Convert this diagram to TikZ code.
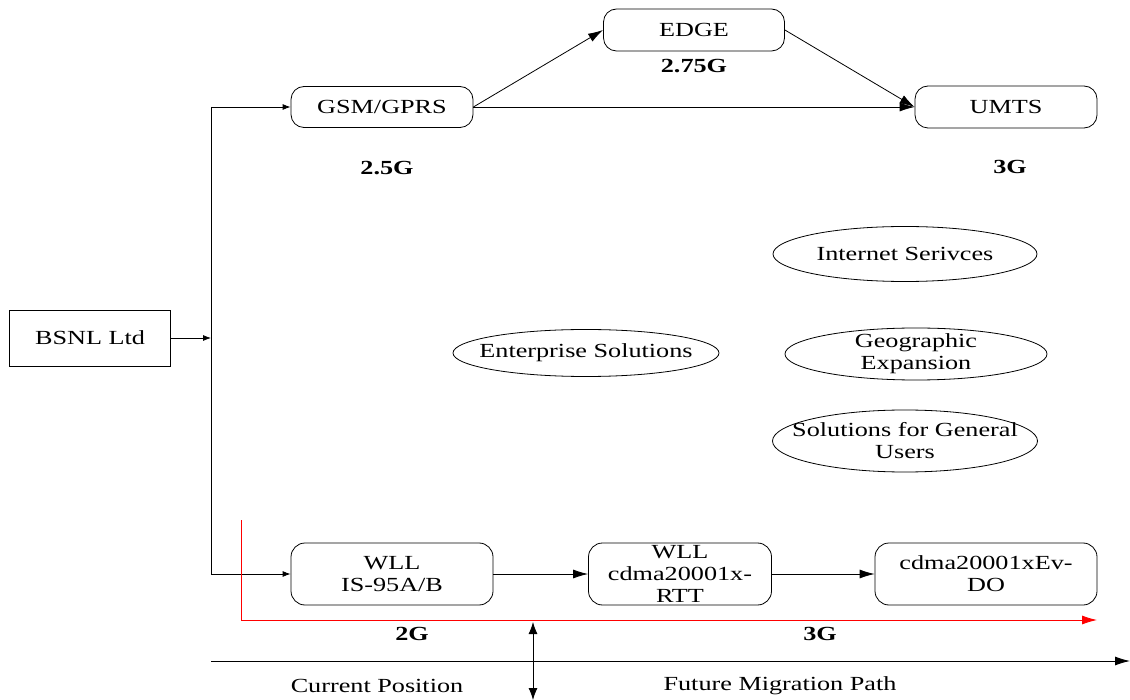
\documentclass[tikz,border=0pt]{standalone}
\usepackage{fontspec}
\setmainfont{Liberation Serif}[FakeStretch=1.31]
\usetikzlibrary{arrows.meta,shapes.geometric}
\begin{document}
\begin{tikzpicture}[x=1pt,y=-1pt,
  txt/.style={font=\fontsize{20}{22}\selectfont, align=center, inner sep=0pt},
  lbl/.style={font=\fontsize{20}{22}\selectfont\bfseries, inner sep=0pt},
  rbox/.style={draw, rounded corners=14pt, minimum height=62pt, inner sep=0pt, line width=0.8pt},
  sbox/.style={draw, inner sep=0pt, line width=0.8pt},
  ell/.style={draw, ellipse, inner sep=0pt, line width=0.8pt},
  conn/.style={line width=0.9pt},
  smallarr/.style={line width=0.8pt, -{Latex[length=8pt,width=6pt]}},
  bigarr/.style={line width=0.8pt, -{Latex[length=15pt,width=9pt]}}
]
\useasboundingbox (0,0) rectangle (1130,700);

% boxes
\node[sbox, minimum width=161pt, minimum height=56pt] (bsnl) at (90,338) {};
\node[txt] (bsnlt) at (bsnl) {BSNL Ltd};
\node[rbox, minimum width=182pt, minimum height=41pt, rounded corners=13pt] (gsm) at (382,107) {};
\node[txt] (gsmt) at (gsm) {GSM/GPRS};
\node[rbox, minimum width=181pt, minimum height=42pt, rounded corners=13pt] (edge) at (694,30) {};
\node[txt] (edget) at (edge) {EDGE};
\node[rbox, minimum width=182pt, minimum height=42pt, rounded corners=13pt] (umts) at (1006,107) {};
\node[txt] (umtst) at (umts) {UMTS};

\node[lbl] (l275) at (694,66) {2.75G};
\node[lbl] (l25) at (387,168) {2.5G};
\node[lbl] (l3a) at (1010,167) {3G};

% ellipses
\node[ell, minimum width=264pt, minimum height=55pt] (inet) at (905,254) {};
\node[txt] (inett) at (inet) {Internet Serivces};
\node[ell, minimum width=262pt, minimum height=52pt] (geo) at (916,354) {};
\node[txt] (geot) at (geo) {Geographic\\Expansion};
\node[ell, minimum width=265pt, minimum height=62pt] (sol) at (905,441) {};
\node[txt] (solt) at (sol) {Solutions for General\\Users};
\node[ell, minimum width=266pt, minimum height=47pt] (ent) at (586,353) {};
\node[txt] (entt) at (ent) {Enterprise Solutions};

% bottom row
\node[rbox, minimum width=202pt] (wll1) at (392,574) {};
\node[txt] (wll1t) at (wll1) {WLL\\IS-95A/B};
\node[rbox, minimum width=183pt] (wll2) at (680,574) {};
\node[txt] (wll2t) at (wll2) {WLL\\cdma20001x-\\RTT};
\node[rbox, minimum width=222pt] (wll3) at (986,574) {};
\node[txt] (wll3t) at (wll3) {cdma20001xEv-\\DO};

\node[lbl] (l2g) at (412,634) {2G};
\node[lbl] (l3g) at (820,634) {3G};
\node[txt] (cur) at (377,686) {Current Position};
\node[txt] (fut) at (780,686) {Future Migration Path};

% trunk
\coordinate (vtop) at (211,107);
\coordinate (vj) at (211,338);
\coordinate (vbot) at (211,574);
\draw[conn] (vtop) -- (vbot);
\draw[smallarr] (bsnl.east) -- (vj);
\draw[smallarr] (vtop) -- (gsm.west);
\draw[smallarr] (vbot) -- (wll1.west);

% top arrows
\draw[bigarr] (gsm.east) -- (edge.west);
\draw[bigarr] (gsm.east) -- (umts.west);
\draw[bigarr] (edge.east) -- (umts.west);

% bottom arrows
\draw[bigarr] (wll1.east) -- (wll2.west);
\draw[bigarr] (wll2.east) -- (wll3.west);

% red generation line
\coordinate (rtop) at (241,520);
\coordinate (rcorner) at (241,620);
\coordinate (rend) at (1097,620);
\draw[red, line width=0.8pt, -{Latex[length=15pt,width=9pt]}] (rtop) -- (rcorner) -- (rend);

% timeline
\coordinate (tstart) at (211,661);
\coordinate (tend) at (1130,661);
\draw[line width=0.9pt, -{Latex[length=15pt,width=9pt]}] (tstart) -- (tend);
\coordinate (dtop) at (533,622);
\coordinate (dbot) at (533,700);
\draw[line width=0.8pt, {Latex[length=12pt,width=9pt]}-{Latex[length=12pt,width=9pt]}] (dtop) -- (dbot);
\end{tikzpicture}
\end{document}
